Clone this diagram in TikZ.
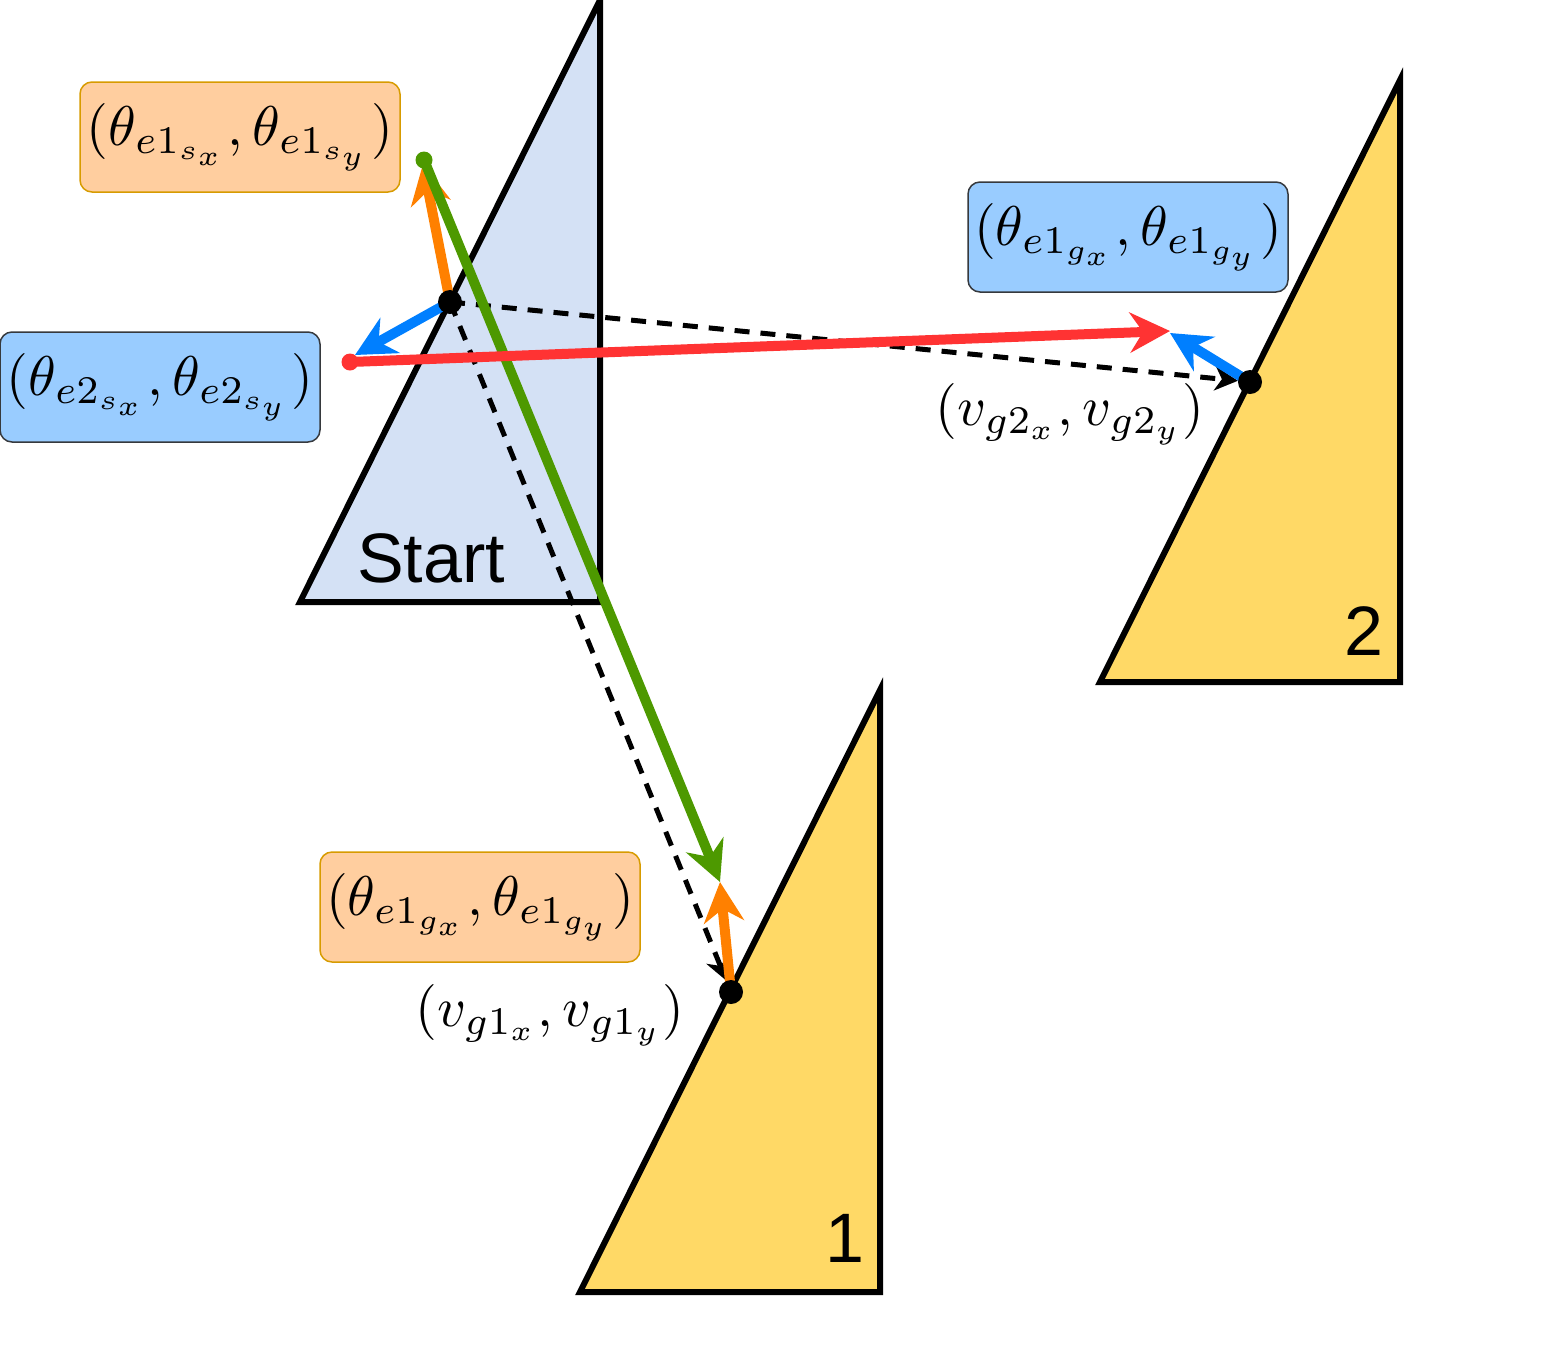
\documentclass[tikz,border=0pt]{standalone}
\usepackage{fontspec}
\newfontfamily\labelsans{Liberation Sans}
\usetikzlibrary{arrows.meta}
\definecolor{startfill}{HTML}{D4E1F5}
\definecolor{goalfill}{HTML}{FFD966}
\definecolor{ofill}{HTML}{FFCE9F}
\definecolor{ostroke}{HTML}{D79B00}
\definecolor{bfill}{HTML}{99CCFF}
\definecolor{bstroke}{HTML}{36393D}
\definecolor{oarrow}{HTML}{FF8000}
\definecolor{barrow}{HTML}{007FFF}
\definecolor{rarrow}{HTML}{FF3333}
\definecolor{garrow}{HTML}{4D9900}
\newcommand\mbig[1]{\scalebox{5.6}{$#1$}}
\pgfdeclarelayer{shapes}
\pgfdeclarelayer{lines}
\pgfsetlayers{shapes,lines,main}
\begin{document}
\begin{tikzpicture}[x=1pt,y=-1pt,
  tri/.style={draw=black,line width=6pt,line join=miter},
  lbox/.style={rounded corners=12pt,minimum width=320pt,minimum height=110pt,inner sep=0pt,line width=1.5pt},
  obox/.style={lbox,fill=ofill,draw=ostroke},
  bbox/.style={lbox,fill=bfill,draw=bstroke},
  vlabel/.style={inner sep=0pt},
  biglabel/.style={inner sep=0pt,anchor=base,font=\labelsans\fontsize{70}{84}\selectfont},
  bdot/.style={circle,fill=black,inner sep=0pt,minimum size=24pt},
  cdot/.style={circle,inner sep=0pt,minimum size=17pt},
  thick arrow/.style={line width=10pt,-{Stealth[length=40pt,width=40pt,inset=13pt]}},
  dash arrow/.style={line width=5pt,dash pattern=on 15pt off 11pt,-{Stealth[length=23pt,width=24pt,inset=7pt]}}
]
\useasboundingbox (0,0) rectangle (1552,1369);

% triangles
\begin{pgfonlayer}{shapes}
\draw[tri,fill=startfill] (300,602) -- (600,0) -- (600,602) -- cycle;
\draw[tri,fill=goalfill] (580,1292) -- (880,690) -- (880,1292) -- cycle;
\draw[tri,fill=goalfill] (1100,682) -- (1400,80) -- (1400,682) -- cycle;
\end{pgfonlayer}

\node[biglabel] (start) at (431,582) {Start};
\node[biglabel] (one) at (845,1262) {1};
\node[biglabel] (two) at (1364,655) {2};

% label boxes
\node[obox] (es1) at (240,137) {\mbig{(\theta_{e1_{s_x}},\theta_{e1_{s_y}})}};
\node[bbox] (eg1) at (1128,237) {\mbig{(\theta_{e1_{g_x}},\theta_{e1_{g_y}})}};
\node[bbox] (es2) at (160,387) {\mbig{(\theta_{e2_{s_x}},\theta_{e2_{s_y}})}};
\node[obox] (eg1b) at (480,907) {\mbig{(\theta_{e1_{g_x}},\theta_{e1_{g_y}})}};
\node[vlabel] (vg2) at (1070,414) {\mbig{(v_{g2_x},v_{g2_y})}};
\node[vlabel] (vg1) at (550,1015) {\mbig{(v_{g1_x},v_{g1_y})}};

% points
\node[bdot] (P) at (450,302) {};
\node[bdot] (G2) at (1250,382) {};
\node[bdot] (G1) at (731,992) {};
\node[cdot,fill=garrow] (gs) at (424,160) {};
\node[cdot,fill=rarrow] (rs) at (350,362) {};
\coordinate (oe1) at (423,164);
\coordinate (be1) at (355,355);
\coordinate (ge) at (720,882);
\coordinate (re) at (1170,331);
\coordinate (be2) at (1170,333);

\begin{pgfonlayer}{lines}
\draw[dash arrow] (P.center) -- (G2);
\draw[dash arrow] (P.center) -- (G1);
\draw[thick arrow,draw=oarrow,fill=oarrow] (P.center) -- (oe1);
\draw[thick arrow,draw=barrow,fill=barrow] (P.center) -- (be1);
\draw[thick arrow,draw=garrow,fill=garrow] (gs.center) -- (ge);
\draw[thick arrow,draw=rarrow,fill=rarrow] (rs.center) -- (re);
\draw[thick arrow,draw=barrow,fill=barrow] (G2.center) -- (be2);
\draw[thick arrow,draw=oarrow,fill=oarrow] (G1.center) -- (ge);
\end{pgfonlayer}
\end{tikzpicture}
\end{document}
